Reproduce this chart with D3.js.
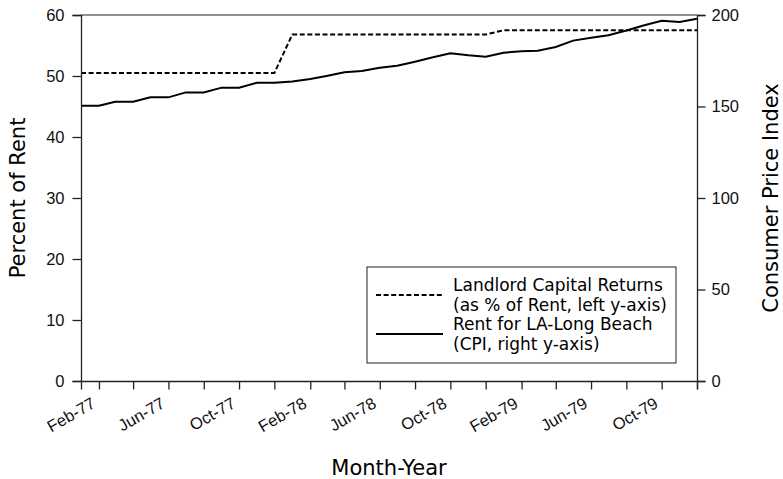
<!DOCTYPE html>
<html>
<head>
<meta charset="utf-8">
<script src="https://cdn.jsdelivr.net/npm/d3@7"></script>
<style>
  body { margin: 0; background: #fff; }
  svg { font-family: "DejaVu Sans", sans-serif; }
</style>
</head>
<body>
<div id="chart"></div>
<script>
const width = 783;
const height = 479;
const margin = { top: 15, right: 86, bottom: 98, left: 81 };

// monthly observations, Jan-77 .. Dec-79
const months = d3.timeMonth.range(new Date(1977, 0, 1), new Date(1980, 0, 1));

// Landlord capital returns, % of rent (left axis)
const returnsPct = [
  50.5, 50.5, 50.5, 50.5, 50.5, 50.5, 50.5, 50.5, 50.5, 50.5, 50.5, 50.5,
  56.8, 56.8, 56.8, 56.8, 56.8, 56.8, 56.8, 56.8, 56.8, 56.8, 56.8, 56.8,
  57.5, 57.5, 57.5, 57.5, 57.5, 57.5, 57.5, 57.5, 57.5, 57.5, 57.5, 57.5
];

// Rent CPI for LA-Long Beach (right axis)
const rentCpi = [
  150.4, 150.4, 152.6, 152.6, 155.0, 155.0, 157.7, 157.7, 160.3, 160.3, 163.0, 163.0,
  163.6, 165.0, 166.7, 168.7, 169.4, 171.2, 172.3, 174.5, 176.9, 179.1, 178.0, 177.2,
  179.4, 180.2, 180.5, 182.5, 186.0, 187.6, 188.9, 191.5, 194.4, 196.9, 196.2, 198.0
];

const leftTicks = [0, 10, 20, 30, 40, 50, 60];
const rightTicks = [0, 50, 100, 150, 200];
const labelMonths = [1, 5, 9]; // Feb, Jun, Oct

const svg = d3.select("#chart").append("svg")
  .attr("width", width)
  .attr("height", height);

const x = d3.scaleTime()
  .domain([months[0], months[months.length - 1]])
  .range([margin.left, width - margin.right]);

const yL = d3.scaleLinear().domain([0, 60]).range([height - margin.bottom, margin.top]);
const yR = d3.scaleLinear().domain([0, 200]).range([height - margin.bottom, margin.top]);

// lines
const dashed = d3.line().x((d, i) => x(months[i])).y(d => yL(d));
const solid = d3.line().x((d, i) => x(months[i])).y(d => yR(d));

svg.append("path")
  .datum(returnsPct)
  .attr("d", dashed)
  .attr("fill", "none")
  .attr("stroke", "#000")
  .attr("stroke-width", 2)
  .attr("stroke-dasharray", "5,2.6");

svg.append("path")
  .datum(rentCpi)
  .attr("d", solid)
  .attr("fill", "none")
  .attr("stroke", "#000")
  .attr("stroke-width", 2);

// axes
const tickMonths = months.filter(m => m.getMonth() % 2 === 1);

const xAxis = svg.append("g")
  .attr("transform", `translate(0,${height - margin.bottom})`)
  .call(d3.axisBottom(x)
    .tickValues(tickMonths)
    .tickSize(8.5)
    .tickFormat(d => labelMonths.includes(d.getMonth()) ? d3.timeFormat("%b-%y")(d) : ""));

xAxis.selectAll(".tick text")
  .attr("text-anchor", "end")
  .attr("x", null)
  .attr("y", null)
  .attr("dy", "0.74em")
  .attr("transform", "translate(-9,15) rotate(-30)");

svg.append("g")
  .attr("transform", `translate(${margin.left},0)`)
  .call(d3.axisLeft(yL).tickValues(leftTicks).tickSize(8.5).tickPadding(8));

svg.append("g")
  .attr("transform", `translate(${width - margin.right},0)`)
  .call(d3.axisRight(yR).tickValues(rightTicks).tickSize(8.5).tickPadding(6));

svg.selectAll(".tick text")
  .attr("font-size", 16.5)
  .attr("fill", "#111");
svg.selectAll(".domain, .tick line")
  .attr("stroke", "#222")
  .attr("stroke-width", 1.3);

// top spine
svg.append("line")
  .attr("x1", margin.left).attr("x2", width - margin.right)
  .attr("y1", margin.top).attr("y2", margin.top)
  .attr("stroke", "#222")
  .attr("stroke-width", 1);

// axis titles
svg.append("text")
  .attr("x", (margin.left + width - margin.right) / 2)
  .attr("y", 475)
  .attr("text-anchor", "middle")
  .attr("font-size", 21)
  .text("Month-Year");

svg.append("text")
  .attr("transform", `translate(25,${(margin.top + height - margin.bottom) / 2}) rotate(-90)`)
  .attr("text-anchor", "middle")
  .attr("font-size", 21)
  .text("Percent of Rent");

svg.append("text")
  .attr("transform", `translate(778,${(margin.top + height - margin.bottom) / 2}) rotate(-90)`)
  .attr("text-anchor", "middle")
  .attr("font-size", 21)
  .text("Consumer Price Index");

// legend
const legend = svg.append("g").attr("transform", "translate(367,267)");

legend.append("rect")
  .attr("width", 309)
  .attr("height", 96)
  .attr("fill", "#fff")
  .attr("stroke", "#222")
  .attr("stroke-width", 1);

const legendItems = [
  { lines: ["Landlord Capital Returns", "(as % of Rent, left y-axis)"], dash: "5,2.6" },
  { lines: ["Rent for LA-Long Beach", "(CPI, right y-axis)"], dash: null }
];

legendItems.forEach((item, i) => {
  const y0 = 28 + i * 39;
  legend.append("line")
    .attr("x1", 9).attr("x2", 76)
    .attr("y1", y0).attr("y2", y0)
    .attr("stroke", "#000")
    .attr("stroke-width", 2)
    .attr("stroke-dasharray", item.dash);
  item.lines.forEach((t, j) => {
    legend.append("text")
      .attr("x", 86)
      .attr("y", y0 - 10 + j * 20)
      .attr("dy", "0.35em")
      .attr("font-size", 17)
      .text(t);
  });
});
</script>
</body>
</html>
